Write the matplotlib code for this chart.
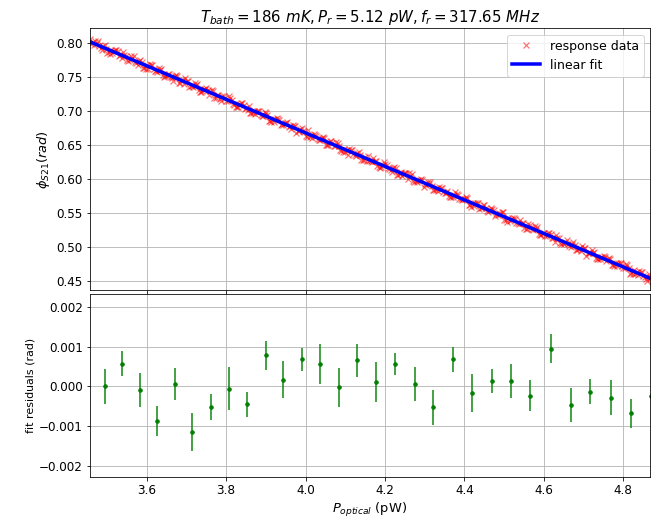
import numpy as np
import matplotlib
matplotlib.use('Agg')
import matplotlib.pyplot as plt

# optical power sweeps (pW) and measured phase response (rad), three interleaved passes
sweep_starts = [3.457, 3.4603, 3.4637]
sweep_step = 0.01
phase_a = [0.8060, 0.7975, 0.8031, 0.7906, 0.7921, 0.7837, 0.7892, 0.7887, 0.7783, 0.7818,
           0.7754, 0.7809, 0.7685, 0.7720, 0.7615, 0.7691, 0.7626, 0.7581, 0.7617, 0.7512,
           0.7547, 0.7443, 0.7518, 0.7453, 0.7489, 0.7364, 0.7360, 0.7395, 0.7290, 0.7326,
           0.7241, 0.7296, 0.7232, 0.7147, 0.7202, 0.7218, 0.7113, 0.7069, 0.7124, 0.7039,
           0.7074, 0.6970, 0.7005, 0.6940, 0.6996, 0.6851, 0.6887, 0.6902, 0.6797, 0.6833,
           0.6768, 0.6803, 0.6679, 0.6734, 0.6689, 0.6725, 0.6600, 0.6636, 0.6571, 0.6606,
           0.6501, 0.6537, 0.6552, 0.6428, 0.6443, 0.6358, 0.6434, 0.6349, 0.6364, 0.6280,
           0.6335, 0.6250, 0.6266, 0.6161, 0.6257, 0.6172, 0.6107, 0.6163, 0.6078, 0.6093,
           0.6008, 0.6084, 0.5979, 0.5995, 0.5890, 0.5965, 0.5901, 0.5836, 0.5891, 0.5807,
           0.5822, 0.5737, 0.5813, 0.5708, 0.5704, 0.5719, 0.5594, 0.5650, 0.5565, 0.5620,
           0.5535, 0.5571, 0.5466, 0.5502, 0.5517, 0.5372, 0.5408, 0.5423, 0.5338, 0.5354,
           0.5269, 0.5304, 0.5320, 0.5195, 0.5211, 0.5166, 0.5201, 0.5077, 0.5132, 0.5067,
           0.5102, 0.4998, 0.5033, 0.4969, 0.5024, 0.4879, 0.4915, 0.4930, 0.4826, 0.4861,
           0.4796, 0.4831, 0.4727, 0.4762, 0.4718, 0.4753, 0.4608, 0.4664, 0.4599, 0.4634,
           0.4529, 0.4564]
phase_b = [0.7982, 0.8027, 0.7953, 0.7958, 0.7863, 0.7899, 0.7894, 0.7819, 0.7865, 0.7750,
           0.7806, 0.7731, 0.7737, 0.7642, 0.7677, 0.7673, 0.7598, 0.7643, 0.7529, 0.7514,
           0.7509, 0.7514, 0.7420, 0.7455, 0.7450, 0.7376, 0.7421, 0.7306, 0.7292, 0.7337,
           0.7293, 0.7198, 0.7234, 0.7229, 0.7154, 0.7200, 0.7085, 0.7070, 0.7116, 0.7041,
           0.6976, 0.7011, 0.7007, 0.6932, 0.6977, 0.6863, 0.6848, 0.6893, 0.6819, 0.6824,
           0.6790, 0.6785, 0.6711, 0.6756, 0.6641, 0.6627, 0.6672, 0.6597, 0.6603, 0.6508,
           0.6563, 0.6488, 0.6534, 0.6419, 0.6404, 0.6450, 0.6375, 0.6380, 0.6286, 0.6321,
           0.6267, 0.6312, 0.6198, 0.6183, 0.6228, 0.6154, 0.6159, 0.6064, 0.6100, 0.6095,
           0.6090, 0.5975, 0.5961, 0.6006, 0.5931, 0.5937, 0.5842, 0.5877, 0.5873, 0.5798,
           0.5754, 0.5739, 0.5785, 0.5710, 0.5715, 0.5621, 0.5656, 0.5651, 0.5577, 0.5622,
           0.5517, 0.5562, 0.5488, 0.5493, 0.5398, 0.5434, 0.5429, 0.5354, 0.5400, 0.5285,
           0.5341, 0.5266, 0.5272, 0.5177, 0.5212, 0.5208, 0.5133, 0.5178, 0.5064, 0.5049,
           0.5044, 0.5049, 0.4955, 0.4990, 0.4985, 0.4911, 0.4956, 0.4841, 0.4827, 0.4872,
           0.4828, 0.4733, 0.4769, 0.4764, 0.4689, 0.4735, 0.4620, 0.4605, 0.4651, 0.4576,
           0.4511, 0.4546]
phase_c = [0.8014, 0.8009, 0.7935, 0.7980, 0.7865, 0.7851, 0.7896, 0.7821, 0.7827, 0.7732,
           0.7787, 0.7712, 0.7758, 0.7643, 0.7628, 0.7674, 0.7599, 0.7604, 0.7510, 0.7545,
           0.7491, 0.7536, 0.7422, 0.7407, 0.7452, 0.7378, 0.7383, 0.7288, 0.7324, 0.7319,
           0.7314, 0.7199, 0.7185, 0.7230, 0.7155, 0.7161, 0.7066, 0.7101, 0.7097, 0.7022,
           0.6978, 0.6963, 0.7009, 0.6934, 0.6939, 0.6845, 0.6880, 0.6875, 0.6801, 0.6846,
           0.6741, 0.6786, 0.6712, 0.6717, 0.6622, 0.6658, 0.6653, 0.6578, 0.6624, 0.6509,
           0.6565, 0.6490, 0.6496, 0.6401, 0.6436, 0.6432, 0.6357, 0.6402, 0.6288, 0.6273,
           0.6268, 0.6273, 0.6179, 0.6214, 0.6209, 0.6135, 0.6180, 0.6065, 0.6051, 0.6096,
           0.6052, 0.5957, 0.5993, 0.5988, 0.5913, 0.5959, 0.5844, 0.5829, 0.5875, 0.5800,
           0.5735, 0.5770, 0.5766, 0.5691, 0.5736, 0.5622, 0.5607, 0.5652, 0.5578, 0.5583,
           0.5549, 0.5544, 0.5470, 0.5515, 0.5400, 0.5386, 0.5431, 0.5356, 0.5362, 0.5267,
           0.5322, 0.5247, 0.5293, 0.5178, 0.5163, 0.5209, 0.5134, 0.5139, 0.5045, 0.5080,
           0.5026, 0.5071, 0.4957, 0.4942, 0.4987, 0.4913, 0.4918, 0.4823, 0.4859, 0.4854,
           0.4849, 0.4734, 0.4720, 0.4765, 0.4690, 0.4696, 0.4601, 0.4636, 0.4632, 0.4557,
           0.4603, 0.4488]

# binned fit residuals
res_power = [3.495, 3.538, 3.583, 3.625, 3.672, 3.715, 3.761, 3.807, 3.853, 3.899,
             3.943, 3.990, 4.035, 4.084, 4.130, 4.176, 4.226, 4.275, 4.321, 4.370,
             4.419, 4.468, 4.517, 4.566, 4.619, 4.667, 4.716, 4.769, 4.819, 4.869]
residuals = [0.0000, 0.00057, -0.00010, -0.00088, 0.00007, -0.00114, -0.00051, -0.00006, -0.00045, 0.00078,
             0.00017, 0.00068, 0.00056, -0.00002, 0.00066, 0.00011, 0.00057, 0.00007, -0.00052, 0.00068,
             -0.00016, 0.00013, 0.00013, -0.00023, 0.00095, -0.00046, -0.00013, -0.00028, -0.00068, -0.00023]
res_err = [0.00043, 0.00032, 0.00043, 0.00038, 0.00040, 0.00048, 0.00033, 0.00054, 0.00032, 0.00037,
           0.00046, 0.00028, 0.00051, 0.00049, 0.00042, 0.00050, 0.00028, 0.00043, 0.00044, 0.00032,
           0.00048, 0.00030, 0.00043, 0.00038, 0.00037, 0.00043, 0.00032, 0.00045, 0.00037, 0.00032]

power = np.concatenate([start + sweep_step * np.arange(len(ph))
                        for start, ph in zip(sweep_starts, [phase_a, phase_b, phase_c])])
phase = np.concatenate([phase_a, phase_b, phase_c])
order = np.argsort(power)
power, phase = power[order], phase[order]

slope, intercept = np.polyfit(power, phase, 1)

plt.rcParams['xtick.labelsize'] = 12
plt.rcParams['ytick.labelsize'] = 12

fig = plt.figure(figsize=(665 / 72, 523 / 72), dpi=72)
ax1 = fig.add_axes([0.1353, 0.4455, 0.8421, 0.5004])
ax2 = fig.add_axes([0.1353, 0.0880, 0.8421, 0.3493], sharex=ax1)

ax1.plot(power, phase, 'x', color='red', alpha=0.55, markersize=6, markeredgewidth=1.2,
         label='response data')
ax1.plot(power, slope * power + intercept, color='blue', linewidth=3.5, label='linear fit')
ax1.set_ylabel(r'$\phi_{S21} (rad)$', fontsize=13)
ax1.set_title(r'$T_{bath} = 186\ mK, P_r = 5.12\ pW, f_r = 317.65\ MHz$', fontsize=15)
ax1.set_ylim(0.4372, 0.822)
ax1.set_yticks(np.arange(0.45, 0.801, 0.05))
ax1.grid(True)
ax1.legend(loc='upper right', fontsize=12.5, handlelength=2.2)
plt.setp(ax1.get_xticklabels(), visible=False)

ax2.errorbar(res_power, residuals, yerr=res_err, fmt='o', color='g', ecolor=(0.1, 0.55, 0.1, 0.8),
             elinewidth=2, markersize=3.5)
ax2.set_ylabel('fit residuals (rad)', fontsize=11)
ax2.set_xlabel(r'$P_{optical}$ (pW)', fontsize=13)
ax2.set_ylim(-0.00228, 0.00232)
ax2.set_yticks([-0.002, -0.001, 0.0, 0.001, 0.002])
ax2.set_xlim(3.457, 4.867)
ax2.grid(True)

plt.savefig('out.png', dpi=72)
plt.close()
